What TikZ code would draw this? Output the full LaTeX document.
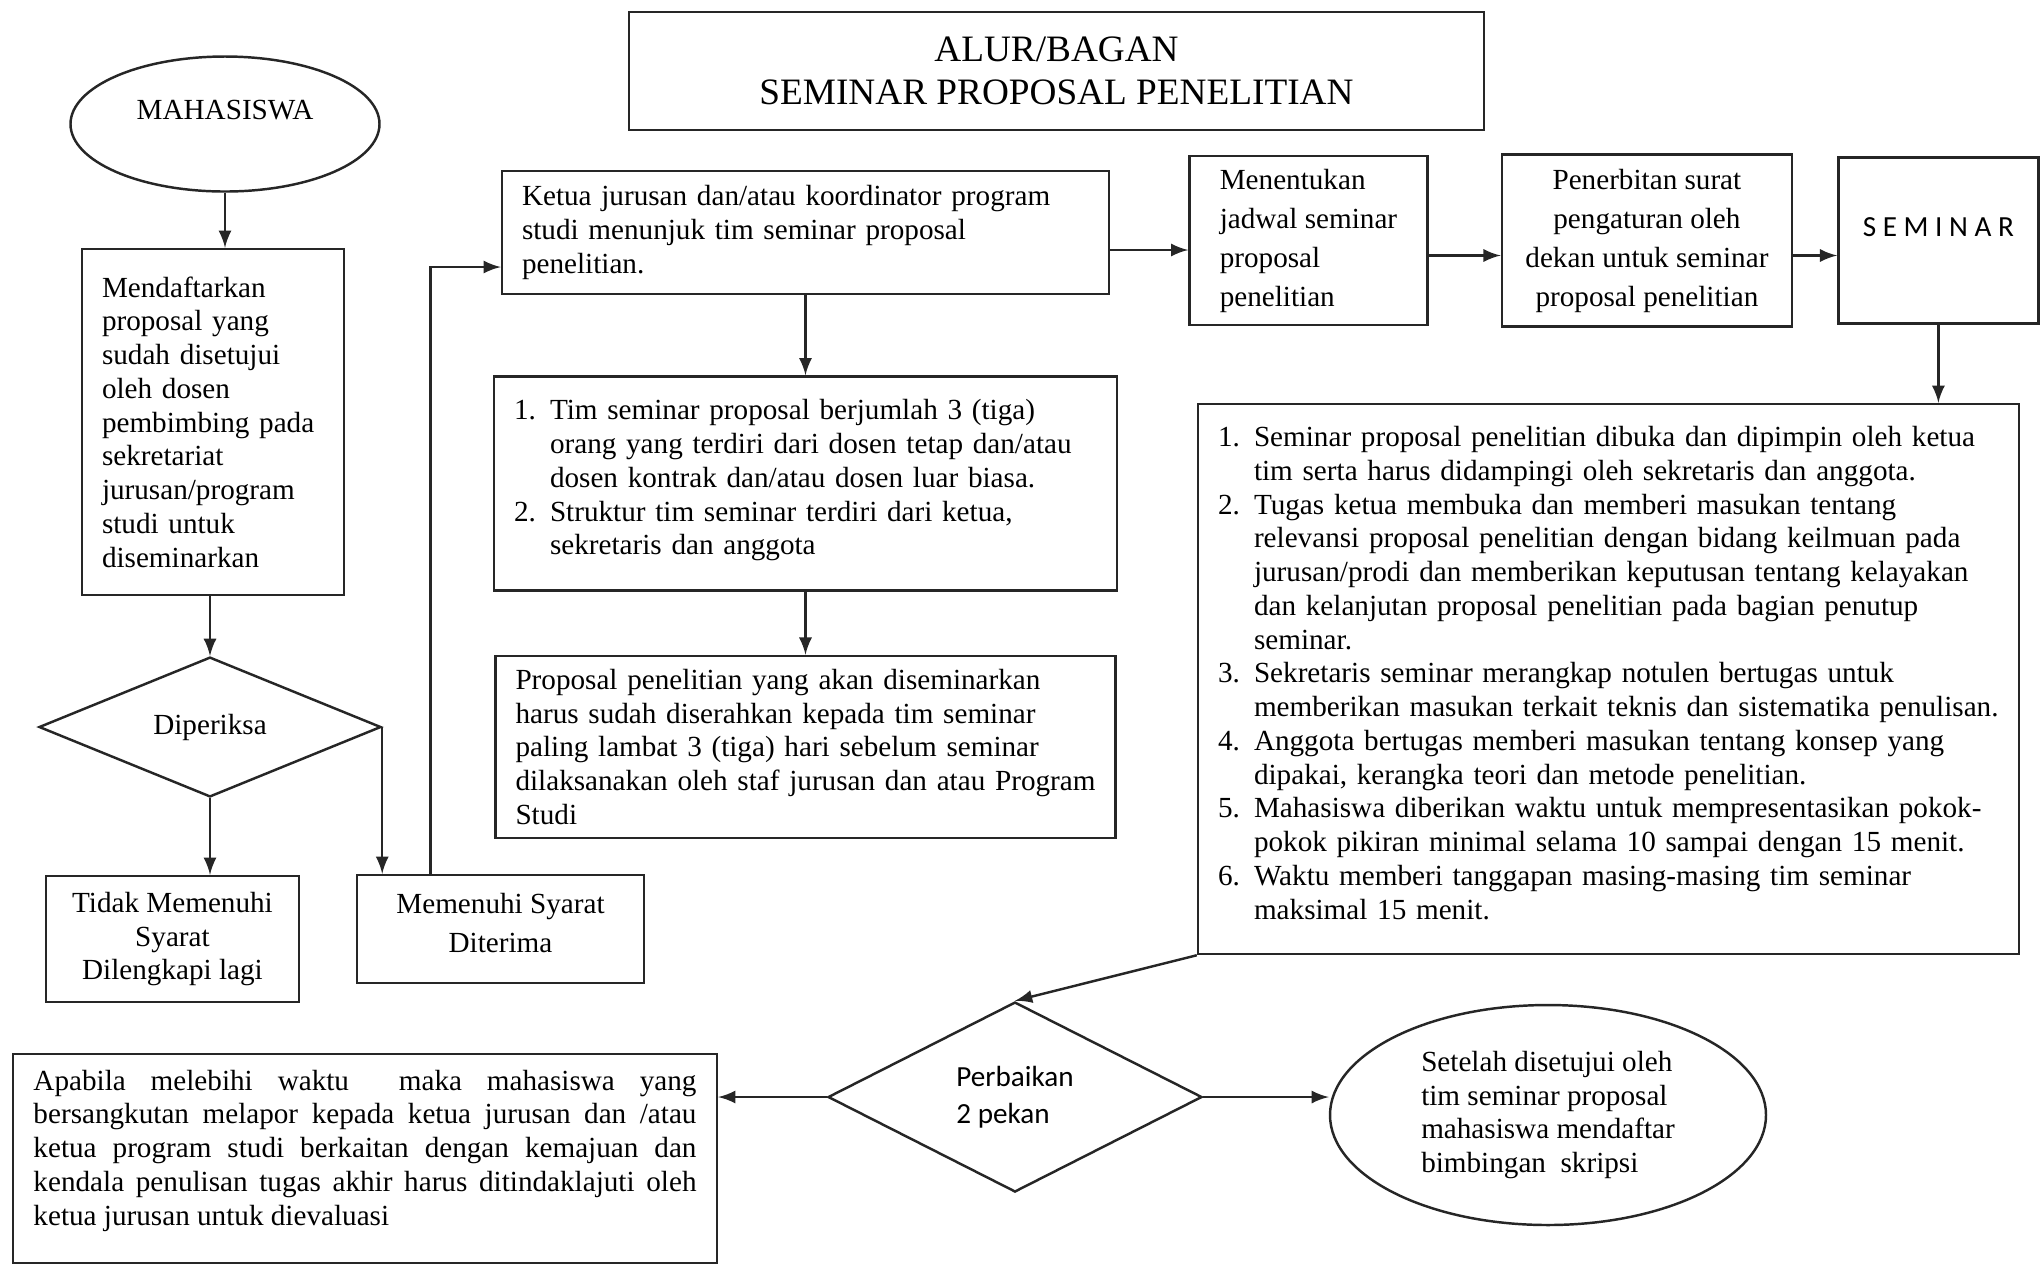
\documentclass[tikz,border=0pt]{standalone}
\usepackage{fontspec}
\setmainfont{Liberation Serif}
\newfontfamily\calibrifont{Carlito}
\usetikzlibrary{arrows,positioning,shapes.geometric}
\setlength{\parindent}{0pt}
\newcommand{\numitem}[1]{\par\noindent\hangindent=0.36cm\hangafter=1\makebox[0.36cm][l]{#1}\ignorespaces}
\newcommand{\fullline}[1]{\makebox[\linewidth][s]{#1}}
\tikzset{process/.style={rectangle,draw=black!85,line width=0.7pt,fill=white,inner xsep=2mm,inner ysep=0pt,align=left,font=\fontsize{8.3}{9.6}\selectfont}}
\tikzset{decision/.style={diamond,draw=black!85,line width=0.7pt,fill=white,inner sep=0pt,align=left,font=\fontsize{8.3}{9.6}\selectfont}}
\tikzset{terminal/.style={ellipse,draw=black!85,line width=0.7pt,fill=white,inner sep=0pt,align=left,font=\fontsize{8.3}{9.6}\selectfont}}
\tikzset{toArrow/.style={-latex,line width=0.7pt,draw=black!85}}

\begin{document}
\begin{tikzpicture}
\useasboundingbox (0,0) rectangle (20.41,-12.66);
\node (judul) [process, align=center, font=\fontsize{10.6}{12.2}\selectfont, minimum width=8.55cm, minimum height=1.18cm] at (10.565,-0.71) {ALUR/BAGAN\\SEMINAR PROPOSAL PENELITIAN};

\node (mhs) [terminal, minimum width=3.09cm, minimum height=1.35cm] at (2.25,-1.24) {\raisebox{1.4mm}[\height][\depth]{MAHASISWA}};
\node (daftar) [process, text width=2.22cm, minimum width=2.62cm, minimum height=3.46cm] at (2.13,-4.22) {Mendaftarkan\\proposal yang\\sudah disetujui\\oleh dosen\\pembimbing pada\\sekretariat\\jurusan/program\\studi untuk\\diseminarkan};
\node (periksa) [decision, minimum width=3.42cm, minimum height=1.34cm] at (2.10,-7.27) {Diperiksa};
\node (tidak) [process, align=center, minimum width=2.53cm, minimum height=1.26cm] at (1.725,-9.39) {Tidak Memenuhi\\Syarat\\Dilengkapi lagi};
\node (syarat) [process, align=center, font=\fontsize{8.3}{11.1}\selectfont, minimum width=2.87cm, minimum height=1.08cm] at (5.005,-9.29) {\raisebox{0.6mm}[\height][\depth]{Memenuhi Syarat}\\\raisebox{0.6mm}[\height][\depth]{Diterima}};

\node (ketua) [process, text width=5.67cm, minimum width=6.07cm, minimum height=1.23cm] at (8.055,-2.325) {Ketua jurusan dan/atau koordinator program\\studi menunjuk tim seminar proposal\\penelitian.};
\begin{scope}[node distance=8mm]
	\node (tim) [process, text width=5.83cm, minimum width=6.23cm, minimum height=2.14cm, below =of ketua] {\numitem{1.}Tim seminar proposal berjumlah 3 (tiga)\newline orang yang terdiri dari dosen tetap dan/atau\newline dosen kontrak dan/atau dosen luar biasa.
	\numitem{2.}Struktur tim seminar terdiri dari ketua,\newline sekretaris dan anggota\rule[-2.6mm]{0pt}{0pt}\par};
	\node (berkas) [process, text width=5.80cm, minimum width=6.20cm, minimum height=1.82cm, below =6.3mm of tim] {Proposal penelitian yang akan diseminarkan\\harus sudah diserahkan kepada tim seminar\\paling lambat 3 (tiga) hari sebelum seminar\\dilaksanakan oleh staf jurusan dan atau Program\\Studi};
	\node (jadwal) [process, font=\fontsize{8.3}{11.1}\selectfont, minimum width=2.38cm, minimum height=1.69cm, right =7.8mm of ketua, yshift=-0.8mm] {Menentukan\\jadwal seminar\\proposal\\penelitian};
	\node (surat) [process, align=center, font=\fontsize{8.3}{11.1}\selectfont, minimum width=2.90cm, minimum height=1.72cm, right =7.2mm of jadwal] {Penerbitan surat\\pengaturan oleh\\dekan untuk seminar\\proposal penelitian};
	\node (seminar) [process, align=center, font=\calibrifont\fontsize{8.3}{9.6}\selectfont, minimum width=2.00cm, minimum height=1.66cm, right =4.4mm of surat] {\raisebox{1.3mm}[\height][\depth]{S E M I N A R}};
\end{scope}

\node (sesi) [process, text width=7.81cm, minimum width=8.21cm, minimum height=5.50cm] at (16.085,-6.79) {\numitem{1.}Seminar proposal penelitian dibuka dan dipimpin oleh ketua\newline tim serta harus didampingi oleh sekretaris dan anggota.
\numitem{2.}Tugas ketua membuka dan memberi masukan tentang\newline relevansi proposal penelitian dengan bidang keilmuan pada\newline jurusan/prodi dan memberikan keputusan tentang kelayakan\newline dan kelanjutan proposal penelitian pada bagian penutup\newline seminar.
\numitem{3.}Sekretaris seminar merangkap notulen bertugas untuk\newline memberikan masukan terkait teknis dan sistematika penulisan.
\numitem{4.}Anggota bertugas memberi masukan tentang konsep yang\newline dipakai, kerangka teori dan metode penelitian.
\numitem{5.}Mahasiswa diberikan waktu untuk mempresentasikan pokok-\newline pokok pikiran minimal selama 10 sampai dengan 15 menit.
\numitem{6.}Waktu memberi tanggapan masing-masing tim seminar\newline maksimal 15 menit.\rule[-2.6mm]{0pt}{0pt}\par};

\node (perbaikan) [decision, font=\calibrifont\fontsize{8.3}{10.5}\selectfont, minimum width=3.74cm, minimum height=1.90cm] at (10.15,-10.97) {Perbaikan\\2 pekan};
\node (apabila) [process, align=justify, text width=6.63cm, minimum width=7.04cm, minimum height=2.09cm] at (3.65,-11.585) {\fullline{Apabila melebihi waktu \ maka mahasiswa yang}\\\fullline{bersangkutan melapor kepada ketua jurusan dan /atau}\\\fullline{ketua program studi berkaitan dengan kemajuan dan}\\\fullline{kendala penulisan tugas akhir harus ditindaklajuti oleh}\\ketua jurusan untuk dievaluasi\rule[-2.2mm]{0pt}{0pt}};
\node (setuju) [terminal, minimum width=4.36cm, minimum height=2.20cm] at (15.48,-11.15) {Setelah disetujui oleh\\tim seminar proposal\\mahasiswa mendaftar\\bimbingan\ \ skripsi};

\draw [toArrow] (mhs.south) -- (mhs.south |- daftar.north);
\draw [toArrow] (periksa.north |- daftar.south) -- (periksa.north);
\draw [toArrow] (periksa.south) -- (periksa.south |- tidak.north);
\draw [toArrow] (periksa.east) -- (periksa.east |- syarat.north);
\draw [toArrow] ([xshift=-7mm]syarat.north) |- ([yshift=-3.45mm]ketua.west);
\draw [toArrow] (ketua.south) -- (tim.north);
\draw [toArrow] (tim.south) -- (berkas.north);
\draw [toArrow] ([yshift=-1.75mm]ketua.east) -- ([yshift=-1.75mm]ketua.east -| jadwal.west);
\draw [toArrow] ([yshift=-1.5mm]jadwal.east) -- ([yshift=-1.5mm]surat.west);
\draw [toArrow] ([yshift=-1.5mm]surat.east) -- ([yshift=-1.5mm]seminar.west);
\draw [toArrow] (seminar.south) -- (seminar.south |- sesi.north);
\draw [toArrow] (sesi.south west) -- (perbaikan.north);
\draw [toArrow] (perbaikan.west) -- (perbaikan.west -| apabila.east);
\draw [toArrow] (perbaikan.east) -- (perbaikan.east -| setuju.west);
\end{tikzpicture}
\end{document}
